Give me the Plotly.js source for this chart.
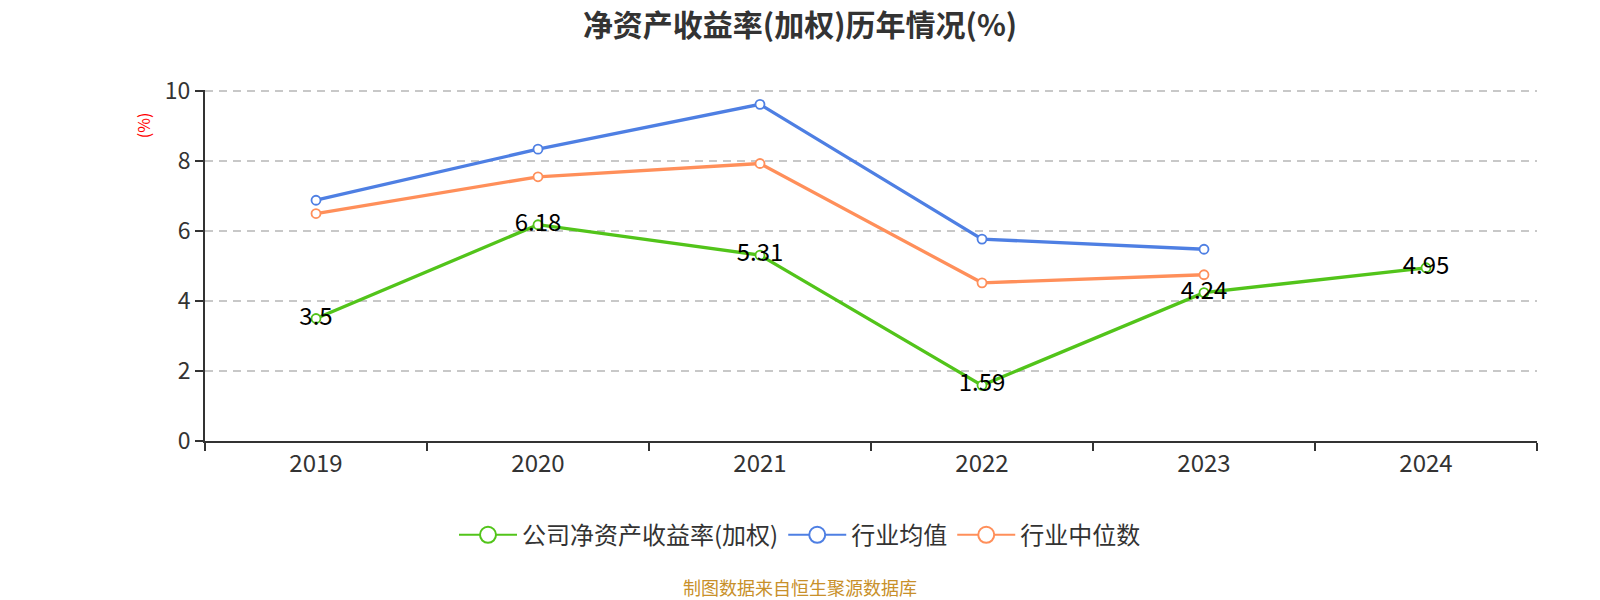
<!DOCTYPE html>
<html><head><meta charset="utf-8">
<script src="https://cdn.plot.ly/plotly-3.0.1.min.js"></script>
<style>body{margin:0;background:#fff;overflow:hidden}#c{width:1600px;height:600px}</style>
</head><body><div id="c"></div>
<script>
const years = ['2019','2020','2021','2022','2023','2024'];
const companyROE = [3.5, 6.18, 5.31, 1.59, 4.24, 4.95];
const industryAvg = [6.88, 8.34, 9.62, 5.77, 5.48, null];
const industryMedian = [6.50, 7.55, 7.93, 4.52, 4.75, null];
const seriesNames = ['公司净资产收益率(加权)', '行业均值', '行业中位数'];
const colors = ['#52c41a', '#4e7fe3', '#ff8f5a'];
const font = '"Noto Sans CJK SC", "Noto Sans", sans-serif';

function trace(y, i, withText) {
  const t = {
    x: years, y: y, name: seriesNames[i], type: 'scatter',
    mode: withText ? 'lines+markers+text' : 'lines+markers',
    line: {color: colors[i], width: 3.3},
    marker: {size: 9, color: '#fff', line: {color: colors[i], width: 1.8}},
    hoverinfo: 'x+y', connectgaps: false, showlegend: false, cliponaxis: false
  };
  if (withText) {
    t.text = y.map(v => String(v));
    t.textposition = 'middle center';
    t.textfont = {family: font, size: 24, color: '#000'};
  }
  return t;
}
function legendTrace(i) {
  return {x: [null], y: [null], name: seriesNames[i], type: 'scatter', mode: 'lines+markers',
          line: {color: colors[i], width: 2},
          marker: {size: 22, color: '#fff', line: {color: colors[i], width: 2}},
          showlegend: true, hoverinfo: 'skip'};
}

const data = [
  trace(industryAvg, 1, false),
  trace(industryMedian, 2, false),
  trace(companyROE, 0, true),
  legendTrace(0), legendTrace(1), legendTrace(2)
];

const layout = {
  width: 1600, height: 600,
  margin: {l: 205, r: 63, t: 90, b: 159},
  paper_bgcolor: '#fff', plot_bgcolor: '#fff',
  font: {family: font, color: '#333'},
  title: {text: '<b>净资产收益率(加权)历年情况(%)</b>', x: 0.5, xanchor: 'center', xref: 'container',
          yref: 'container', y: 0.958, yanchor: 'middle',
          font: {family: font, size: 30, color: '#333'}},
  xaxis: {type: 'category', range: [-0.5, 5.5], tickson: 'boundaries', ticks: 'outside', ticklen: 8,
          tickcolor: '#333', tickwidth: 2, showline: true, linecolor: '#333', linewidth: 2,
          showgrid: false, zeroline: false, tickfont: {family: font, size: 24, color: '#333'}, fixedrange: true},
  yaxis: {range: [0, 10.03], tickvals: [0, 2, 4, 6, 8, 10], ticks: 'outside', ticklen: 8, tickcolor: '#333', tickwidth: 2,
          showline: true, linecolor: '#333', linewidth: 2, showgrid: true, gridcolor: '#c8c8c8',
          griddash: '8px,6px', gridwidth: 1.5, zeroline: false, tickfont: {family: font, size: 23, color: '#333'}, fixedrange: true},
  showlegend: true,
  legend: {orientation: 'h', xref: 'container', x: 0.5, xanchor: 'center', yref: 'container', y: 0.108, yanchor: 'middle',
           font: {family: font, size: 24, color: '#333'}, traceorder: 'normal', itemsizing: 'trace', itemwidth: 58},
  annotations: [
    {text: '(%)', xref: 'paper', yref: 'paper', x: -0.0465, y: 0.90, xanchor: 'center', yanchor: 'middle',
     textangle: -90, showarrow: false, font: {family: font, size: 16, color: '#ff0000'}},
    {text: '制图数据来自恒生聚源数据库', xref: 'paper', yref: 'paper', x: 0.4985, xanchor: 'center',
     y: -0.415, yanchor: 'middle', showarrow: false, font: {family: font, size: 18, color: '#c8902a'}}
  ]
};
// center source text on the page rather than plot area
layout.annotations[1].x = (800 - 205) / (1600 - 205 - 63);
Plotly.newPlot('c', data, layout, {displayModeBar: false, staticPlot: true});
</script></body></html>
